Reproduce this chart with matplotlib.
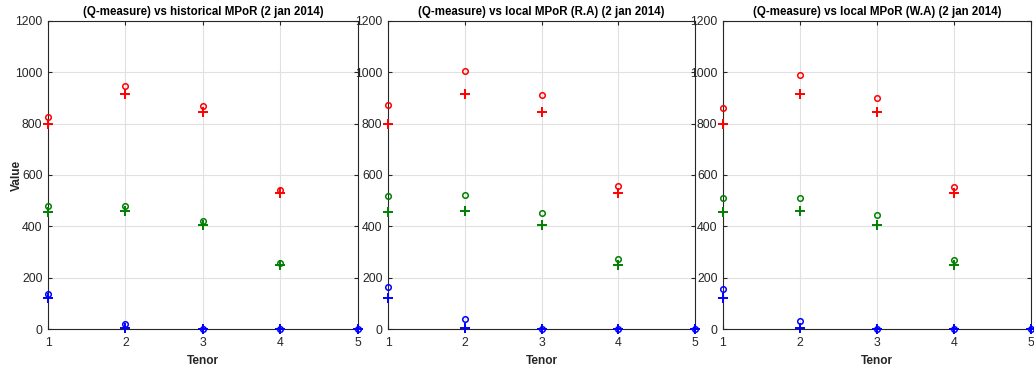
import matplotlib
matplotlib.use("Agg")
import matplotlib.pyplot as plt

plt.rcParams['font.family'] = ['Liberation Sans', 'DejaVu Sans']

tenor = [1, 2, 3, 4, 5]
titles = ["(Q-measure) vs historical MPoR (2 jan 2014)",
          "(Q-measure) vs local MPoR (R.A) (2 jan 2014)",
          "(Q-measure) vs local MPoR (W.A) (2 jan 2014)"]

# Q-measure values ('+'), same in every panel
q_red = [797, 917, 844, 529, None]
q_green = [455, 458, 404, 249, None]
q_blue = [122, 5, 0, 0, 0]

# MPoR values ('o'), one list per panel
mpor_red = [[825, 947, 869, 541, None],
            [871, 1006, 913, 558, None],
            [860, 988, 901, 555, None]]
mpor_green = [[479, 479, 419, 256, None],
              [517, 521, 452, 273, None],
              [510, 510, 446, 270, None]]
mpor_blue = [[135, 18, 0, 0, 0],
             [162, 39, 0, 0, 0],
             [156, 31, 0, 0, 0]]

yticks = [0, 200, 400, 600, 800, 1000, 1200]
red, green, blue = (1, 0, 0), (0, 0.5, 0), (0, 0, 1)
axcol = (0.15, 0.15, 0.15)

fig = plt.figure(figsize=(10.34, 3.74), dpi=100)
positions = [(48, 310), (388, 307), (723, 308)]
W, H = 1034, 374


def pts(xs, ys):
    px = [x for x, y in zip(xs, ys) if y is not None]
    py = [y for y in ys if y is not None]
    return px, py


for i, (lx, w) in enumerate(positions):
    ax = fig.add_axes([lx / W, 45 / H, w / W, 308 / H])
    ax.set_zorder(3 - i)
    for col, qs, ms in [(red, q_red, mpor_red[i]),
                        (green, q_green, mpor_green[i]),
                        (blue, q_blue, mpor_blue[i])]:
        x, y = pts(tenor, qs)
        ax.plot(x, y, linestyle='none', marker='+', color=col,
                markersize=7, markeredgewidth=1.4, clip_on=False, zorder=4)
        x, y = pts(tenor, ms)
        ax.plot(x, y, linestyle='none', marker='o', markerfacecolor='none',
                markeredgecolor=col, markersize=4, markeredgewidth=1.1,
                clip_on=False, zorder=4)
    ax.set_xlim(1, 5)
    ax.set_ylim(0, 1200)
    ax.set_xticks(tenor)
    ax.set_yticks(yticks)
    ax.grid(True, color=(0.88, 0.88, 0.88), linewidth=0.8)
    ax.set_axisbelow(True)
    ax.tick_params(direction='in', top=True, right=True, length=3,
                   width=0.8, colors=axcol, labelsize=8.8)
    ax.tick_params(axis='y', pad=4)
    ax.tick_params(axis='x', pad=6)
    for sp in ax.spines.values():
        sp.set_color(axcol)
        sp.set_linewidth(0.8)
    ax.set_title(titles[i], fontsize=8.3, fontweight='bold', color='black', pad=4)
    ax.set_xlabel("Tenor", fontsize=8.6, fontweight='bold', color=axcol)
    ax.xaxis.set_label_coords(0.5, -0.086)
    if i == 0:
        ax.set_ylabel("Value", fontsize=8.6, fontweight='bold', color=axcol)
        ax.yaxis.set_label_coords(-0.08, 0.5)
    ax.patch.set_alpha(0)

fig.savefig("out.png", dpi=100)
